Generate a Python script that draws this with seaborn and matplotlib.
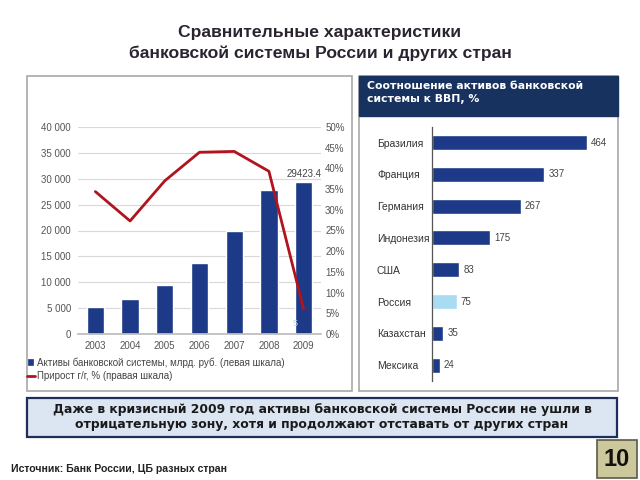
import numpy as np
import pandas as pd
import seaborn as sns
import matplotlib.pyplot as plt
from matplotlib.patches import Rectangle

# Data
years = ['2003', '2004', '2005', '2006', '2007', '2008', '2009']
assets = [5270, 6760, 9400, 13700, 19850, 27900, 29423.4]
growth = [34.4, 27.3, 37.0, 43.9, 44.1, 39.3, 6.0]

countries = ['Бразилия', 'Франция', 'Германия', 'Индонезия', 'США', 'Россия', 'Казахстан', 'Мексика']
ratio = [464, 337, 267, 175, 83, 75, 35, 24]

left_ticks = [0, 5000, 10000, 15000, 20000, 25000, 30000, 35000, 40000]
left_tick_labels = ['0', '5 000', '10 000', '15 000', '20 000', '25 000', '30 000', '35 000', '40 000']
right_ticks = [0, 5, 10, 15, 20, 25, 30, 35, 40, 45, 50]

NAVY = '#1c3a87'
HEADER = '#17325f'
RED = '#b0141e'
LIGHT = '#a9dcf2'

sns.set_theme(style='white')
plt.rcParams['font.family'] = ['Liberation Sans', 'DejaVu Sans']

W, H = 640, 480
fig = plt.figure(figsize=(6.4, 4.8), dpi=100)
fig.patch.set_facecolor('white')


def px(l, t, r, b):
    # pixel box -> figure fraction [left, bottom, width, height]
    return [l / W, 1 - b / H, (r - l) / W, (b - t) / H]


def frame(l, t, r, b, **kw):
    fig.patches.append(Rectangle((l / W, 1 - b / H), (r - l) / W, (b - t) / H,
                                 transform=fig.transFigure, **kw))


# Title
fig.text(320 / W, 1 - 33 / H, 'Сравнительные характеристики', ha='center', va='center',
         fontsize=12.6, fontweight='bold', color='#2a2430')
fig.text(320 / W, 1 - 53 / H, 'банковской системы России и других стран', ha='center', va='center',
         fontsize=12.6, fontweight='bold', color='#2a2430')

# Panel frames
frame(26.7, 75.7, 351.7, 390.7, facecolor='none', edgecolor='#a8a8a8', lw=1.2)
frame(359.3, 75.7, 618, 390.7, facecolor='none', edgecolor='#a8a8a8', lw=1.2)
frame(359.3, 75.7, 618, 116, facecolor=HEADER, edgecolor=HEADER, lw=1)
fig.text(367 / W, 1 - 86 / H, 'Соотношение активов банковской', ha='left', va='center',
         fontsize=7.8, fontweight='bold', color='white', family=['DejaVu Sans'])
fig.text(367 / W, 1 - 99.5 / H, 'системы к ВВП, %', ha='left', va='center',
         fontsize=7.8, fontweight='bold', color='white', family=['DejaVu Sans'])

# ---- Left chart: assets bars + growth line
df_left = pd.DataFrame({'year': years, 'assets': assets, 'growth': growth})
ax = fig.add_axes(px(78, 127, 321, 334))
sns.barplot(data=df_left, x='year', y='assets', color=NAVY, width=0.5, saturation=1, ax=ax)
ax.set_ylim(0, 40000)
ax.set_yticks(left_ticks)
ax.set_yticklabels(left_tick_labels)
ax.set_xlabel('')
ax.set_ylabel('')
ax.yaxis.grid(True, color='#d9d9d9', lw=0.8)
ax.set_axisbelow(True)
for s in ['left', 'right', 'top']:
    ax.spines[s].set_visible(False)
ax.spines['bottom'].set_color('#bdbdbd')
ax.tick_params(axis='y', length=0, pad=5, labelsize=7, labelcolor='#555555')
ax.tick_params(axis='x', length=0, pad=5, labelsize=7, labelcolor='#555555')
ax.text(6, assets[-1] + 500, '29423.4', ha='center', va='bottom', fontsize=7, color='#444444')

ax2 = ax.twinx()
sns.lineplot(x=np.arange(len(years)), y=df_left['growth'], color=RED, lw=2, ax=ax2)
ax2.set_ylim(0, 50)
ax2.set_yticks(right_ticks)
ax2.set_yticklabels([f'{t}%' for t in right_ticks])
ax2.set_ylabel('')
ax2.tick_params(axis='y', length=0, pad=3, labelsize=7, labelcolor='#555555')
for s in ax2.spines.values():
    s.set_visible(False)
ax2.set_xlim(-0.5, len(years) - 0.5)
ax.set_xlim(-0.5, len(years) - 0.5)
ax2.text(5.75, 2.5, '5', ha='center', va='center', fontsize=6.5, color='#c8d4ea')

# Legend (manual, below the chart)
frame(27.5, 359, 33, 365, facecolor=NAVY, edgecolor=NAVY, lw=0.5)
fig.text(37 / W, 1 - 362.5 / H, 'Активы банковской системы, млрд. руб. (левая шкала)',
         ha='left', va='center', fontsize=7, color='#444444')
fig.lines.append(plt.Line2D([27 / W, 35 / W], [1 - 376 / H, 1 - 376 / H], color=RED, lw=2,
                            transform=fig.transFigure))
fig.text(37 / W, 1 - 376 / H, 'Прирост г/г, % (правая шкала)',
         ha='left', va='center', fontsize=7, color='#444444')

# ---- Right chart: assets / GDP ratio
df_right = pd.DataFrame({'country': countries, 'ratio': ratio})
bar_colors = [LIGHT if c == 'Россия' else NAVY for c in countries]
axr = fig.add_axes(px(431.7, 126.7, 611.7, 381))
sns.barplot(data=df_right, y='country', x='ratio', hue='country', palette=bar_colors,
            width=0.47, saturation=1, legend=False, ax=axr)
axr.set_xlim(0, 539)
axr.set_xticks([])
axr.set_xlabel('')
axr.set_ylabel('')
for s in ['top', 'right', 'bottom']:
    axr.spines[s].set_visible(False)
axr.spines['left'].set_color('#555555')
axr.spines['left'].set_linewidth(0.9)
axr.tick_params(axis='y', length=0, pad=39.4, labelsize=7.5, labelcolor='#333333')
for lbl in axr.get_yticklabels():
    lbl.set_ha('left')
for i, v in enumerate(ratio):
    axr.text(v + 12, i, str(v), ha='left', va='center', fontsize=7, color='#444444')

# ---- Callout box
frame(26.7, 397.7, 617, 437.3, facecolor='#dce6f2', edgecolor='#1f2d5a', lw=1.6)
fig.text(322 / W, 1 - 409.5 / H,
         'Даже в кризисный 2009 год активы банковской системы России не ушли в',
         ha='center', va='center', fontsize=8.9, fontweight='bold', color='#1a1a1a',
         family=['DejaVu Sans'])
fig.text(322 / W, 1 - 424.5 / H, 'отрицательную зону, хотя и продолжают отставать от других стран',
         ha='center', va='center', fontsize=8.9, fontweight='bold', color='#1a1a1a',
         family=['DejaVu Sans'])

# Source and page number
fig.text(11 / W, 1 - 469 / H, 'Источник: Банк России, ЦБ разных стран', ha='left', va='center',
         fontsize=7.6, fontweight='bold', color='#222222')
frame(597, 440, 637, 478, facecolor='#cdc89b', edgecolor='#5a5a4a', lw=1.2)
fig.text(617 / W, 1 - 459 / H, '10', ha='center', va='center', fontsize=17,
         fontweight='bold', color='#111111')

fig.savefig('out.png', dpi=100)
